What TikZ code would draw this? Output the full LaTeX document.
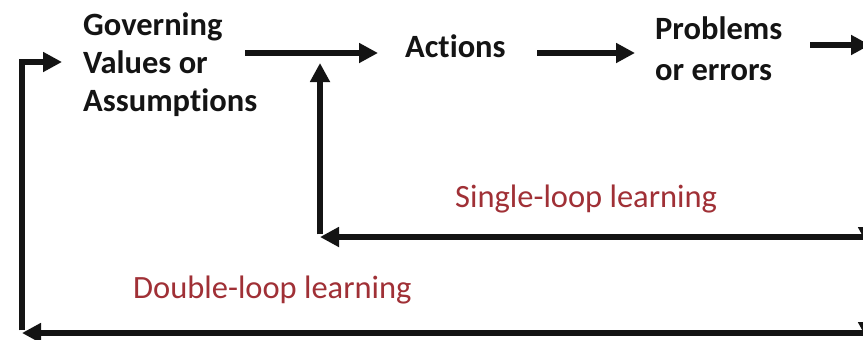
\documentclass[tikz,border=0pt]{standalone}
\usepackage{fontspec}
\setmainfont{Carlito}[Ligatures=NoCommon]
\usetikzlibrary{arrows.meta}
\definecolor{loopred}{RGB}{160,48,54}
\definecolor{inkblack}{RGB}{20,20,20}
\tikzset{
  arr/.style={draw=inkblack, line width=5.5pt, -{Triangle[length=19pt,width=19pt]}},
  lbl/.style={inner sep=0pt, text=inkblack, font=\bfseries\fontsize{32.5}{38}\selectfont, align=left},
  redlbl/.style={inner sep=0pt, text=loopred, font=\fontsize{32.5}{38}\selectfont}
}
\begin{document}
\begin{tikzpicture}[x=1pt,y=-1pt]
\useasboundingbox (0,0) rectangle (863,340);
\clip (0,0) rectangle (863,340);
\fill[white] (0,0) rectangle (863,340);
% nodes
\node[lbl, anchor=base west] (gov) at (83,111) {Governing\\Values or\\Assumptions};
\node[lbl, anchor=base west] (act) at (405,57) {Actions};
\node[lbl, anchor=base west, font=\bfseries\fontsize{32.5}{41}\selectfont] (prob) at (655,80) {Problems\\or errors};
\node[redlbl, anchor=base west] (single) at (455,207) {Single-loop learning};
\node[redlbl, anchor=base west] (double) at (133,298) {Double-loop learning};
% coordinates
\coordinate (a1s) at (245,53);
\coordinate (a1e) at (378,53);
\coordinate (a2s) at (537,53);
\coordinate (a2e) at (635,53);
\coordinate (a3s) at (810,45);
\coordinate (a3e) at (870,45);
\coordinate (rtop) at (868,48);
\coordinate (rmid) at (868,237);
\coordinate (rbot) at (868,333);
\coordinate (sl) at (320,237);
\coordinate (sltop) at (320,63);
\coordinate (bl) at (22,333);
\coordinate (tl) at (22,62);
\coordinate (gin) at (62,62);
% main flow
\draw[arr] (a1s) -- (a1e);
\draw[arr] (a2s) -- (a2e);
\draw[arr] (a3s) -- (a3e);
% right side (mostly outside the frame)
\draw[arr] (rtop) -- ([yshift=-9pt]rmid);
\draw[arr] ([yshift=3pt]rmid) -- ([yshift=-8pt]rbot);
% single loop
\draw[arr] (rmid) -- (sl);
\draw[arr] ([yshift=2.75pt]sl) -- (sltop);
% double loop
\draw[arr] (rbot) -- (bl);
\draw[arr] ([yshift=2.75pt]bl) -- (tl) -- (gin);
\end{tikzpicture}
\end{document}
